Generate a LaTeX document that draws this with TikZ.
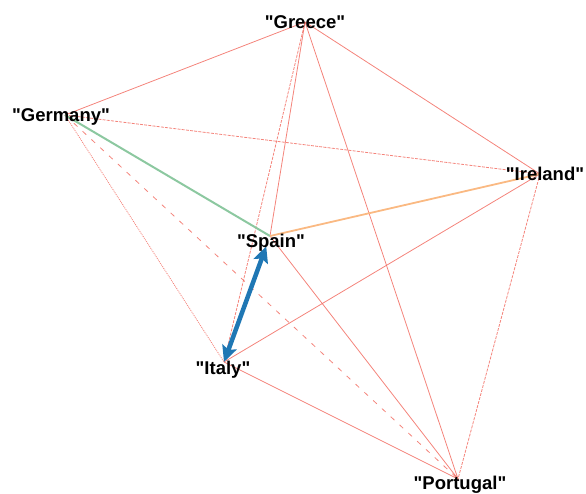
\documentclass[tikz,border=0pt]{standalone}
\usepackage{fontspec}
\setmainfont{Liberation Sans}[Ligatures=TeXOff]
\usetikzlibrary{arrows.meta}
\definecolor{edgered}{RGB}{242,110,100}
\definecolor{edgegreen}{RGB}{140,200,160}
\definecolor{edgeorange}{RGB}{250,185,130}
\definecolor{edgeblue}{RGB}{31,119,180}
\tikzset{
  redline/.style={draw=edgered, line width=0.8pt, draw opacity=0.85},
  reddot/.style={redline, dash pattern=on 1pt off 1pt},
  redfine/.style={redline, dash pattern=on 3pt off 1.2pt},
  reddash/.style={redline, dash pattern=on 5pt off 7pt},
  lbl/.style={font=\fontsize{18.5}{20}\selectfont\bfseries, text=black, inner sep=0pt}
}
\begin{document}
\begin{tikzpicture}[x=1pt,y=-1pt]
\useasboundingbox (0,0) rectangle (586,494);
\coordinate (Ge) at (65,115);
\coordinate (Gr) at (305,22);
\coordinate (Ir) at (540,174);
\coordinate (Sp) at (270,236);
\coordinate (It) at (224,362);
\coordinate (Po) at (458,479);
% red edges
\draw[redline] (Ge) -- (Gr);
\draw[redfine] (Ge) -- (Ir);
\draw[reddot] (Ge) -- (It);
\draw[reddash] (Ge) -- (Po);
\draw[redline] (Gr) -- (Ir);
\draw[redline] (Gr) -- (Sp);
\draw[redfine] (Gr) -- (It);
\draw[redline] (Gr) -- (Po);
\draw[redline] (Ir) -- (It);
\draw[redfine] (Ir) -- (Po);
\draw[redline] (Sp) -- (Po);
\draw[redline] (It) -- (Po);
% coloured edges
\draw[edgegreen, line width=2pt] (Ge) -- (Sp);
\draw[edgeorange, line width=1.8pt] (Ir) -- (Sp);
\draw[edgeblue, line width=4.5pt, shorten <=11pt,
  {Stealth[length=16pt,width=15pt,inset=3pt]}-{Stealth[length=16pt,width=15pt,inset=3pt]}] (Sp) -- (It);
% labels
\node[lbl] (lGe) at (61,117) {"Germany"};
\node[lbl] (lGr) at (305,22) {"Greece"};
\node[lbl] (lIr) at (545,174) {"Ireland"};
\node[lbl] (lSp) at (271,243) {"Spain"};
\node[lbl] (lIt) at (223,370) {"Italy"};
\node[lbl] (lPo) at (460,485) {"Portugal"};
\end{tikzpicture}
\end{document}
